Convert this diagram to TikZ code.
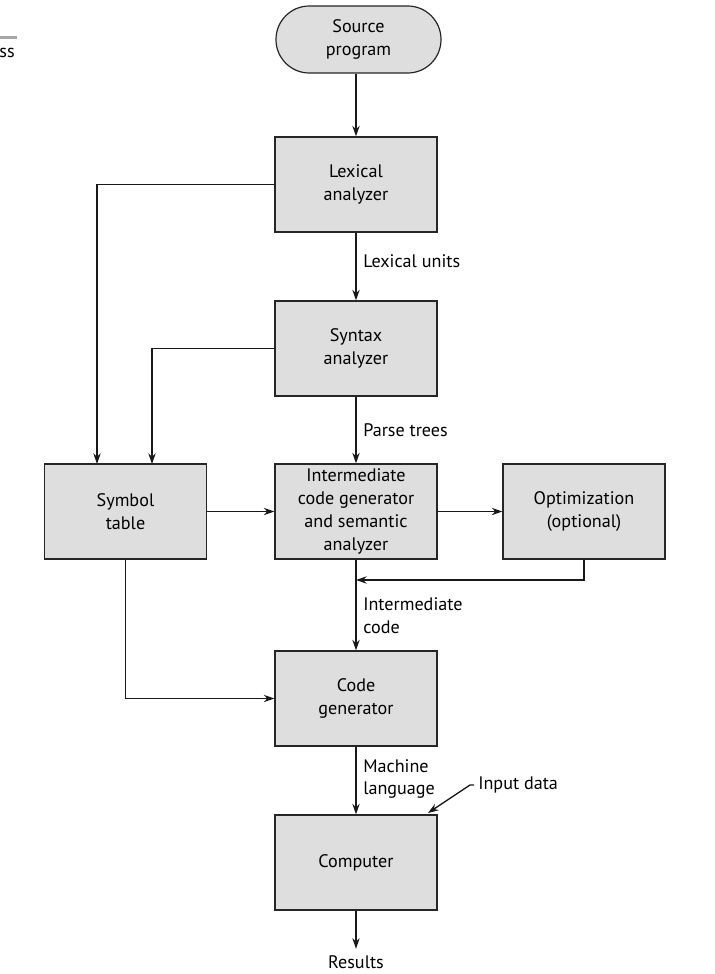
\documentclass[tikz,border=0pt]{standalone}
\usepackage{fontspec}
\setmainfont{PT Sans}
\usetikzlibrary{arrows.meta}

\begin{document}
\begin{tikzpicture}[x=0.75pt,y=-0.75pt,
  box/.style={draw=black!85,fill=black!13,line width=0.9pt,minimum width=121.5pt,minimum height=71.25pt,
    align=center,inner sep=2pt,text=black,font=\fontsize{13.6}{17.2}\selectfont},
  link/.style={draw=black!90,line width=1pt,-{Stealth[length=8pt,width=5.5pt]}},
  lbl/.style={inner sep=0pt,anchor=west,align=left,text=black,font=\fontsize{13.6}{17.2}\selectfont}]
\useasboundingbox (0,0) rectangle (714,974);
% cut-off caption at the left edge
\fill[black!35] (0,36) rectangle (17,39);
\node[lbl,anchor=base east] (capt) at (15,58) {ss};
% boxes
\node[box,minimum width=123.75pt,minimum height=50.25pt,rounded corners=25pt] (src) at (358.5,39.5) {Source\\program};
\node[box] (lex) at (356,184.5) {Lexical\\analyzer};
\node[box] (syn) at (356,348.5) {Syntax\\analyzer};
\node[box] (inter) at (356,511.5) {Intermediate\\code generator\\and semantic\\analyzer};
\node[box] (sym) at (125.5,511.5) {Symbol\\table};
\node[box] (opt) at (584,511.5) {Optimization\\(optional)};
\node[box] (code) at (356,698.5) {Code\\generator};
\node[box] (comp) at (356,862.5) {Computer};
\node[lbl,anchor=center,outer sep=5pt] (res) at (356,962) {Results};
% labels on the main line
\node[lbl] (lexu) at (363,261) {Lexical units};
\node[lbl] (ptree) at (363,430) {Parse trees};
\node[lbl] (icode) at (363,616) {Intermediate\\code};
\node[lbl] (mlang) at (363,779) {Machine\\language};
\node[lbl] (indata) at (478,785) {Input data};
\coordinate (symA) at (97,464);
\coordinate (symB) at (152,464);
\coordinate (fb) at (356,580);
\coordinate (inpt) at (428,813);
% connectors
\draw[link] (src.south -| lex) -- (lex);
\draw[link] (lex) -- (syn);
\draw[link] (syn) -- (inter);
\draw[link] (inter) -- (code);
\draw[link] (code) -- (comp);
\draw[link] (comp) -- (res);
\draw[link] (lex.west) -| (symA);
\draw[link] (syn.west) -| (symB);
\draw[link] (sym) -- (inter);
\draw[link] (inter) -- (opt);
\draw[link] (opt.south) |- (fb);
\draw[link] (sym.south) |- (code.west);
\draw[link] ([xshift=-3pt]indata.west) -- ++(-4,0) -- (inpt);
\end{tikzpicture}
\end{document}
